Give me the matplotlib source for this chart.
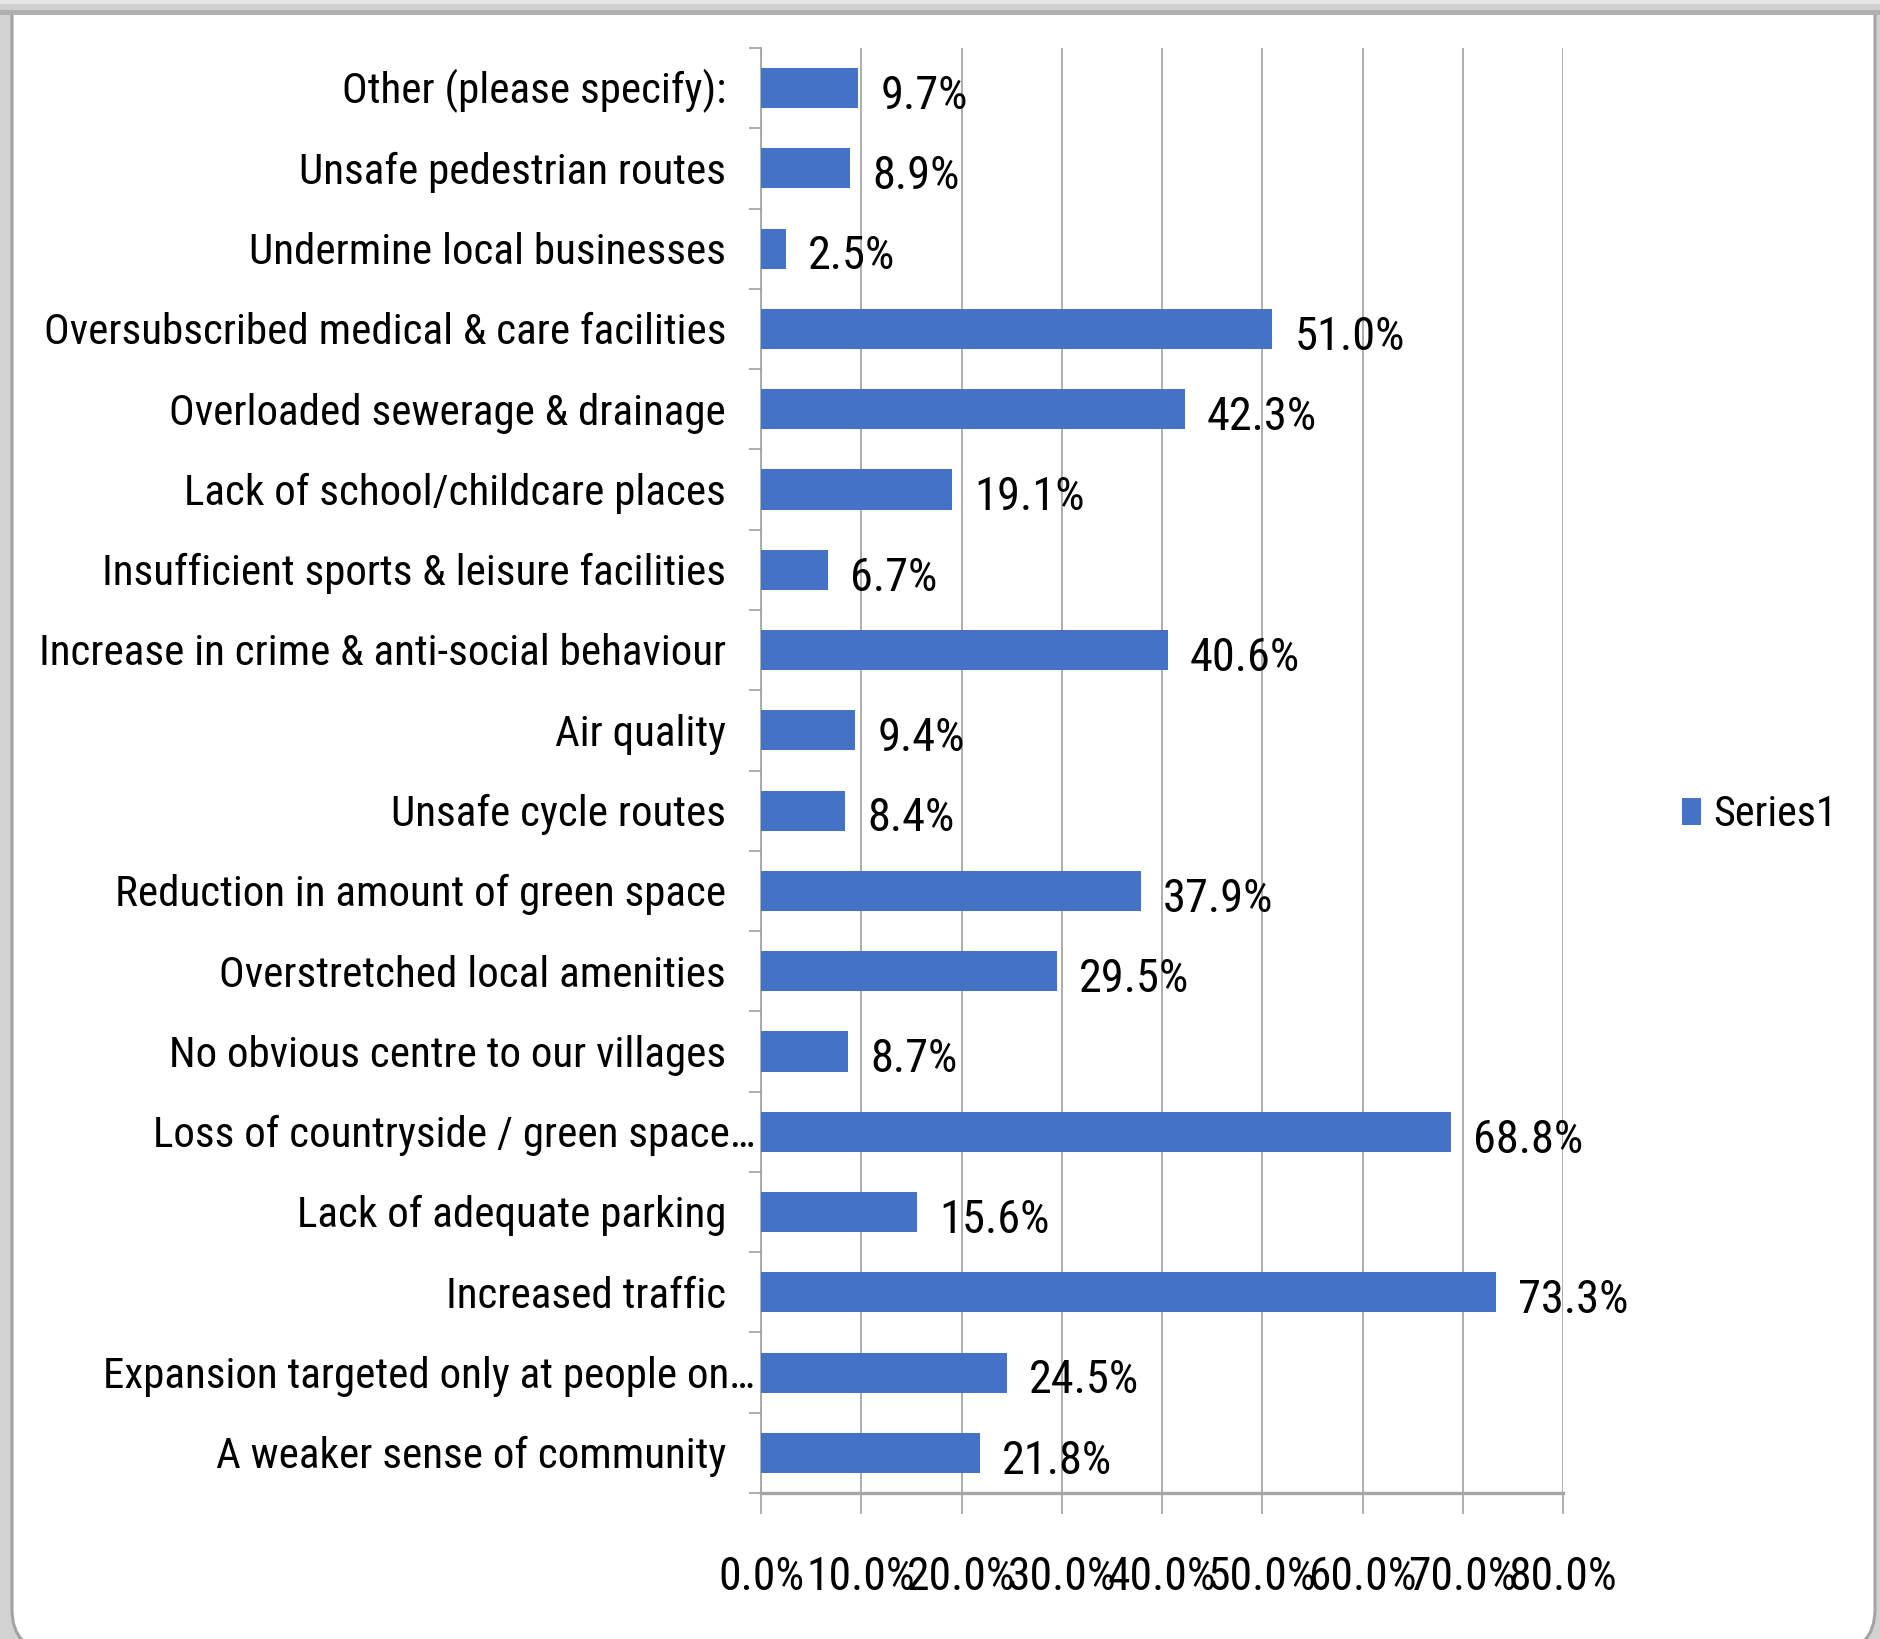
import os
import numpy as np
import matplotlib
matplotlib.use('Agg')
import matplotlib.pyplot as plt
import matplotlib.ticker
import matplotlib.transforms as mtransforms
from matplotlib.patches import FancyBboxPatch, Rectangle, Patch
from matplotlib import font_manager

# survey answers, listed bottom to top as they sit on the chart
categories = [
    'A weaker sense of community',
    'Expansion targeted only at people on…',
    'Increased traffic',
    'Lack of adequate parking',
    'Loss of countryside / green space…',
    'No obvious centre to our villages',
    'Overstretched local amenities',
    'Reduction in amount of green space',
    'Unsafe cycle routes',
    'Air quality',
    'Increase in crime & anti-social behaviour',
    'Insufficient sports & leisure facilities',
    'Lack of school/childcare places',
    'Overloaded sewerage & drainage',
    'Oversubscribed medical & care facilities',
    'Undermine local businesses',
    'Unsafe pedestrian routes',
    'Other (please specify):',
]
percent = [21.8, 24.5, 73.3, 15.6, 68.8, 8.7, 29.5, 37.9, 8.4, 9.4,
           40.6, 6.7, 19.1, 42.3, 51.0, 2.5, 8.9, 9.7]
x_ticks = [0.0, 0.1, 0.2, 0.3, 0.4, 0.5, 0.6, 0.7, 0.8]
series_name = 'Series1'

BAR = '#4472C4'
GRID = '#a0a0a0'
W, H = 1880, 1639


def narrow_font():
    # the narrowest condensed sans around, plain Liberation Sans otherwise
    wanted = ['notosans-extracondensed.ttf', 'liberationsansnarrow-regular.ttf',
              'robotocondensed-regular.ttf', 'notosans-condensed.ttf',
              'dejavusanscondensed.ttf', 'notosans-semicondensed.ttf']
    found = {os.path.basename(f.fname).lower(): f.fname
             for f in font_manager.fontManager.ttflist}
    for name in wanted:
        if name in found:
            return font_manager.FontProperties(fname=found[name])
    return font_manager.FontProperties(family='Liberation Sans')


base_font = narrow_font()

fig = plt.figure(figsize=(W / 100, H / 100), dpi=100)
fig.patch.set_facecolor('#d2d2d2')

# pick the font size from the width of the longest label
renderer = fig.canvas.get_renderer()
probe = fig.text(0, 0, 'Increase in crime & anti-social behaviour',
                 fontproperties=base_font, fontsize=30)
fs = 30 * 686 / probe.get_window_extent(renderer).width
probe.remove()

label_font = base_font.copy()
label_font.set_size(fs)
num_font = base_font.copy()
num_font.set_size(fs * 1.08)
tick_font = base_font.copy()
tick_font.set_size(fs * 1.06)
legend_font = base_font.copy()
legend_font.set_size(fs * 0.98)

# chart area: white box, rounded at the bottom, grey border bands round it
px = mtransforms.IdentityTransform()
fig.add_artist(FancyBboxPatch((12, -12), 1863, H + 40,
                              boxstyle='round,pad=0,rounding_size=42',
                              facecolor='white', edgecolor='#a3a3a3',
                              linewidth=2.2, transform=px, zorder=-2))
for top, h, c in [(0, 4, '#e6e6e6'), (4, 6, '#d0d0d0'), (10, 5, '#b0b0b0')]:
    fig.add_artist(Rectangle((0, H - top - h), W, h, facecolor=c,
                             edgecolor='none', transform=px, zorder=-1))

ax = fig.add_axes([761 / W, 1 - 1493 / H, (1563 - 761) / W, (1493 - 48) / H])
ax.patch.set_alpha(0)

n = len(categories)
y = np.arange(n)
values = [p / 100 for p in percent]
ax.barh(y, values, height=0.5, color=BAR, zorder=3)

ax.set_xlim(0, 0.8)
ax.set_ylim(-0.5, n - 0.5)
ax.set_xticks(x_ticks)
ax.xaxis.set_major_formatter(matplotlib.ticker.PercentFormatter(xmax=1, decimals=1))
ax.tick_params(axis='x', length=15, width=1.2, color=GRID, pad=30,
               labelcolor='black')
for lbl in ax.get_xticklabels():
    lbl.set_fontproperties(tick_font)
ax.set_yticks(np.arange(-0.5, n, 1))
ax.set_yticklabels([])
ax.tick_params(axis='y', length=8.5, width=1.2, color=GRID)
ax.grid(axis='x', color=GRID, linewidth=1.2, zorder=0)
ax.set_axisbelow(True)

for side in ('top', 'right'):
    ax.spines[side].set_visible(False)
ax.spines['left'].set_color(GRID)
ax.spines['left'].set_linewidth(1.2)
ax.spines['bottom'].set_color('#a6a6a6')
ax.spines['bottom'].set_linewidth(2.4)

# category names, right-aligned left of the axis
for i, name in enumerate(categories):
    dx = -4.3 if name.endswith('…') else -25.2
    tf = mtransforms.offset_copy(ax.get_yaxis_transform(), fig=fig,
                                 x=dx, y=-0.358 * fs, units='points')
    ax.text(0, i, name, transform=tf, ha='right', va='baseline',
            fontproperties=label_font, color='black')

# value labels just past the bar ends
num_fs = num_font.get_size_in_points()
for i, v in enumerate(values):
    tf = mtransforms.offset_copy(ax.transData, fig=fig, x=15.8,
                                 y=-0.358 * num_fs - 3, units='points')
    ax.text(v, i, f'{percent[i]:.1f}%', transform=tf, ha='left',
            va='baseline', fontproperties=num_font, color='black', zorder=4)

fig.legend(handles=[Patch(facecolor=BAR, edgecolor='none')], labels=[series_name],
           loc='center left', bbox_to_anchor=(1682 / W, 1 - 815 / H),
           frameon=False, prop=legend_font, handlelength=0.45, handleheight=0.6,
           handletextpad=0.3, borderpad=0, borderaxespad=0)

fig.savefig('out.png', dpi=100, facecolor=fig.get_facecolor())
